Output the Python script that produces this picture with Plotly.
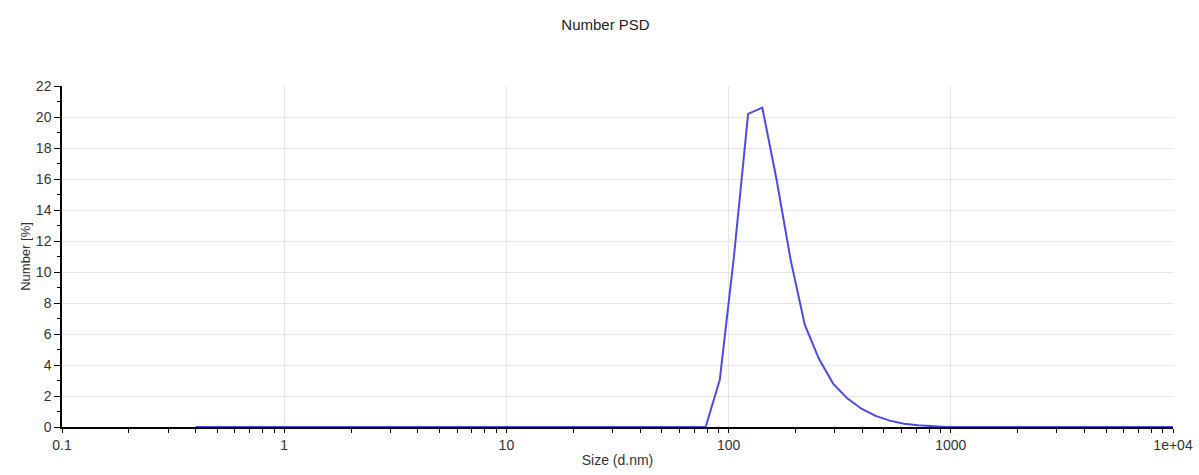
import plotly.graph_objects as go

title_text = "Number PSD"
x_title = "Size (d.nm)"
y_title = "Number [%]"

size_nm = [
    0.4, 0.4632, 0.5365, 0.6213, 0.7195, 0.8332, 0.9649,
    1.117, 1.294, 1.499, 1.736, 2.010, 2.328, 2.696, 3.122, 3.615, 4.187, 4.849, 5.615, 6.503, 7.531, 8.721,
    10.10, 11.70, 13.54, 15.69, 18.17, 21.04, 24.36, 28.21, 32.67, 37.84, 43.82, 50.75, 58.77, 68.06, 78.82, 91.28,
    105.7, 122.4, 141.8, 164.2, 190.1, 220.2, 255.0, 295.3, 342.0, 396.1, 458.7, 531.2, 615.1, 712.4, 825.0, 955.4,
    1106, 1281, 1484, 1718, 1990, 2305, 2669, 3091, 3580, 4145, 4801, 5560, 6439, 7456, 8635, 10000,
]

number_pct = [
    0, 0, 0, 0, 0, 0, 0,
    0, 0, 0, 0, 0, 0, 0, 0, 0, 0, 0, 0, 0, 0, 0,
    0, 0, 0, 0, 0, 0, 0, 0, 0, 0, 0, 0, 0, 0, 0, 3.05,
    11.0, 20.2, 20.6, 16.0, 10.8, 6.6, 4.4, 2.8, 1.85, 1.18, 0.72, 0.41, 0.21, 0.11, 0.05, 0,
    0, 0, 0, 0, 0, 0, 0, 0, 0, 0, 0, 0, 0, 0, 0, 0,
]

x_tickvals = [0.1, 1, 10, 100, 1000, 10000]
x_ticktext = ["0.1", "1", "10", "100", "1000", "1e+04"]

font_family = "Liberation Sans, Arial, sans-serif"
text_color = "#333333"
grid_color = "#e6e6e6"

fig = go.Figure()
fig.add_trace(go.Scatter(
    x=size_nm, y=number_pct, mode="lines",
    line=dict(color="#4b4bec", width=2),
    showlegend=False, hoverinfo="x+y",
))

fig.update_layout(
    width=1199, height=475,
    margin=dict(l=62, r=26, t=86, b=48),
    paper_bgcolor="white", plot_bgcolor="white",
    font=dict(family=font_family, size=14, color=text_color),
    title=dict(text=title_text, x=0.505, xanchor="center", y=1 - 25 / 475, yanchor="middle",
               yref="container", font=dict(size=15, color="#222222", family=font_family)),
)

fig.update_xaxes(
    type="log", range=[-1, 4], automargin=False,
    tickvals=x_tickvals, ticktext=x_ticktext,
    ticks="outside", ticklen=4, tickwidth=1, tickcolor="black",
    showline=True, linecolor="black", linewidth=1.5,
    showgrid=True, gridcolor=grid_color, gridwidth=1,
    zeroline=False, layer="below traces",
    minor=dict(ticks="outside", ticklen=4, tickwidth=1, tickcolor="black", showgrid=False, dtick="D1"),
    tickfont=dict(size=14, color=text_color),
    title=dict(text=x_title, font=dict(size=14, color=text_color), standoff=4),
)

fig.update_yaxes(
    range=[0, 22], dtick=2, tick0=0, automargin=False,
    ticks="outside", ticklen=6, tickwidth=1, tickcolor="black",
    showline=True, linecolor="black", linewidth=1.5,
    showgrid=True, gridcolor=grid_color, gridwidth=1,
    zeroline=False, layer="below traces",
    minor=dict(dtick=1, ticks="outside", ticklen=3, tickwidth=1, tickcolor="black", showgrid=False),
    tickfont=dict(size=14, color=text_color),
    title=dict(text=y_title, font=dict(size=13, color=text_color), standoff=2),
)

fig.write_html("out.html", config={"displayModeBar": False},
               post_script="document.body.style.margin='0';")
